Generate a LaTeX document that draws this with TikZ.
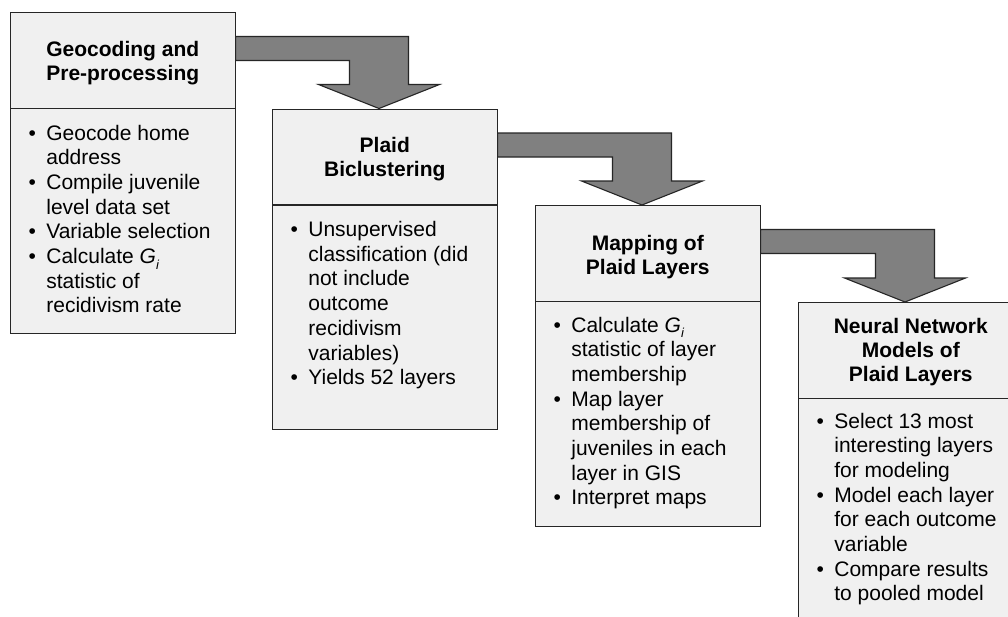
\documentclass[tikz,border=0pt]{standalone}
\usepackage{fontspec}
\setmainfont{Liberation Sans}
\usetikzlibrary{calc}
\newcommand{\Gsub}{\textit{G}\raisebox{-0.28em}{\fontsize{13}{13}\selectfont\textit{i}}}
\tikzset{
  stage/.style={draw=black!85, fill=black!6, line width=1.1pt, minimum width=224.5pt, minimum height=320.5pt, inner sep=0pt, anchor=north west},
  blockarrow/.style={draw=black!85, fill=black!50, line width=1.1pt, line join=miter},
  divider/.style={draw=black!85, line width=1.1pt},
  ttl/.style={anchor=base, inner sep=0pt, font=\bfseries\fontsize{21}{24}\selectfont},
  body/.style={anchor=base west, inner sep=0pt, font=\fontsize{21}{24.7}\selectfont},
}
\begin{document}
\begin{tikzpicture}[x=1pt,y=-1pt]
\useasboundingbox (0,0) rectangle (1008,616);
\fill[white] (0,0) rectangle (1008,616);
\clip (0,0) rectangle (1008,616);

% boxes
\node[stage] (b1) at (10,12) {};
\node[stage] (b2) at (272,108.5) {};
\node[stage] (b3) at (535,205) {};
\node[stage] (b4) at (798,302) {};

% dividers
\foreach \b in {b1,b2,b3,b4}{
  \draw[divider] ($(\b.north west)+(0,96.5)$) -- ($(\b.north east)+(0,96.5)$);
}

% titles
\node[ttl] (t1) at ($(b1.north)+(0,44)$) {\begin{tabular}[t]{@{}c@{}}Geocoding and\\Pre-processing\end{tabular}};
\node[ttl] (t2) at ($(b2.north)+(0,43.5)$) {\begin{tabular}[t]{@{}c@{}}Plaid\\Biclustering\end{tabular}};
\node[ttl] (t3) at ($(b3.north)+(0,45)$) {\begin{tabular}[t]{@{}c@{}}Mapping of\\Plaid Layers\end{tabular}};
\node[ttl] (t4) at ($(b4.north)+(0,31)$) {\begin{tabular}[t]{@{}c@{}}Neural Network\\Models of\\Plaid Layers\end{tabular}};

% bodies
\node[body] (l1) at ($(b1.north west)+(18.4,128)$) {\begin{tabular}[t]{@{}l@{\hspace{10.4pt}}l@{}}
\textbullet & Geocode home\\
 & address\\
\textbullet & Compile juvenile\\
 & level data set\\
\textbullet & Variable selection\\
\textbullet & Calculate \Gsub\\
 & statistic of\\
 & recidivism rate
\end{tabular}};
\node[body] (l2) at ($(b2.north west)+(18.4,128)$) {\begin{tabular}[t]{@{}l@{\hspace{10.4pt}}l@{}}
\textbullet & Unsupervised\\
 & classification (did\\
 & not include\\
 & outcome\\
 & recidivism\\
 & variables)\\
\textbullet & Yields 52 layers
\end{tabular}};
\node[body] (l3) at ($(b3.north west)+(18.4,127)$) {\begin{tabular}[t]{@{}l@{\hspace{10.4pt}}l@{}}
\textbullet & Calculate \Gsub\\
 & statistic of layer\\
 & membership\\
\textbullet & Map layer\\
 & membership of\\
 & juveniles in each\\
 & layer in GIS\\
\textbullet & Interpret maps
\end{tabular}};
\node[body] (l4) at ($(b4.north west)+(18.4,126)$) {\begin{tabular}[t]{@{}l@{\hspace{10.4pt}}l@{}}
\textbullet & Select 13 most\\
 & interesting layers\\
 & for modeling\\
\textbullet & Model each layer\\
 & for each outcome\\
 & variable\\
\textbullet & Compare results\\
 & to pooled model
\end{tabular}};

% block arrows
\foreach \a/\b in {b1/b2,b2/b3,b3/b4}{
  \draw[blockarrow] let \p1=([yshift=-24.5pt]\a.north east), \p2=([xshift=107pt]\b.north west) in
    (\x1,\y1) -- (\x2+29.5pt,\y1) -- (\x2+29.5pt,\y2+24pt) -- (\x2+60.5pt,\y2+24pt)
    -- (\x2,\y2) -- (\x2-60.5pt,\y2+24pt) -- (\x2-29.5pt,\y2+24pt) -- (\x2-29.5pt,\y1-24pt)
    -- (\x1,\y1-24pt) -- cycle;
}
\end{tikzpicture}
\end{document}
